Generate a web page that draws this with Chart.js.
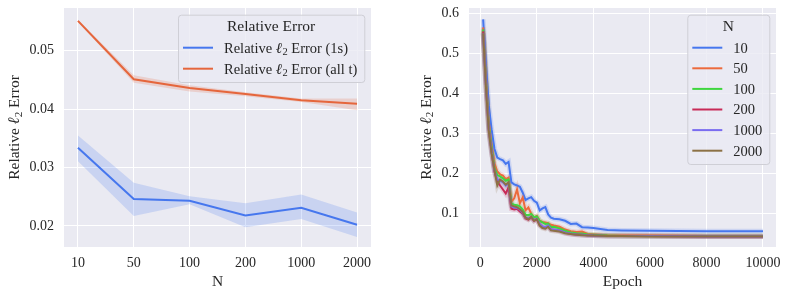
<!DOCTYPE html>
<html>
<head>
<meta charset="utf-8">
<script src="https://cdn.jsdelivr.net/npm/chart.js@4.4.0/dist/chart.umd.min.js"></script>
<style>
  html, body { margin: 0; padding: 0; background: #fff; }
  #wrap { position: relative; width: 789px; height: 292px; }
  #leftChart { position: absolute; left: 0; top: 0; }
  #rightChart { position: absolute; left: 400px; top: 0; }
</style>
</head>
<body>
<div id="wrap">
  <canvas id="leftChart" width="395" height="292"></canvas>
  <canvas id="rightChart" width="389" height="292"></canvas>
</div>
<script>
// left panel: error vs N
const nLabels = ['10', '50', '100', '200', '1000', '2000'];
const err1s = [0.0334, 0.0246, 0.0243, 0.0218, 0.0231, 0.0202];
const err1sLo = [0.0311, 0.0217, 0.0237, 0.0198, 0.0212, 0.0181];
const err1sHi = [0.0355, 0.0274, 0.0251, 0.0239, 0.0254, 0.0223];
const errAll = [0.0551, 0.0451, 0.0436, 0.0426, 0.0415, 0.0409];
const errAllLo = [0.0549, 0.0445, 0.0430, 0.0422, 0.0412, 0.0398];
const errAllHi = [0.0553, 0.0458, 0.0441, 0.0429, 0.0418, 0.0418];
const leftYTicks = [0.02, 0.03, 0.04, 0.05];

// right panel: error vs epoch for each N
const epochs = [100, 200, 300, 400, 500, 600, 700, 800, 900, 1000, 1100, 1200, 1300, 1400, 1500,
  1600, 1700, 1800, 1900, 2000, 2100, 2200, 2300, 2400, 2500, 2600, 2800, 3000, 3200, 3400,
  3600, 3800, 4000, 4500, 5000, 6000, 8000, 10000];
const runN10 = [0.585, 0.47, 0.37, 0.31, 0.262, 0.240, 0.236, 0.233, 0.224, 0.229, 0.178, 0.173, 0.170, 0.167, 0.152,
  0.134, 0.138, 0.141, 0.132, 0.127, 0.108, 0.113, 0.116, 0.098, 0.090, 0.087, 0.086, 0.082, 0.074, 0.075,
  0.066, 0.065, 0.064, 0.059, 0.058, 0.057, 0.056, 0.056];
const runN50 = [0.565, 0.44, 0.33, 0.27, 0.225, 0.205, 0.198, 0.195, 0.186, 0.190, 0.130, 0.138, 0.160, 0.126, 0.140,
  0.108, 0.115, 0.100, 0.090, 0.094, 0.082, 0.079, 0.078, 0.076, 0.072, 0.070, 0.067, 0.060, 0.056, 0.054,
  0.055, 0.049, 0.048, 0.046, 0.045, 0.045, 0.044, 0.044];
const runN100 = [0.56, 0.43, 0.32, 0.265, 0.215, 0.196, 0.193, 0.188, 0.182, 0.185, 0.125, 0.122, 0.121, 0.118, 0.110,
  0.097, 0.096, 0.099, 0.091, 0.093, 0.082, 0.078, 0.074, 0.075, 0.066, 0.067, 0.063, 0.057, 0.053, 0.051,
  0.050, 0.048, 0.047, 0.045, 0.044, 0.044, 0.044, 0.044];
const runN200 = [0.555, 0.42, 0.31, 0.255, 0.205, 0.180, 0.170, 0.160, 0.150, 0.165, 0.112, 0.110, 0.112, 0.105, 0.100,
  0.088, 0.085, 0.090, 0.082, 0.085, 0.072, 0.066, 0.064, 0.068, 0.060, 0.059, 0.057, 0.052, 0.049, 0.048,
  0.047, 0.046, 0.045, 0.044, 0.044, 0.044, 0.043, 0.043];
const runN1000 = [0.55, 0.42, 0.31, 0.255, 0.208, 0.185, 0.182, 0.178, 0.170, 0.176, 0.118, 0.115, 0.114, 0.110, 0.102,
  0.090, 0.088, 0.092, 0.084, 0.087, 0.074, 0.068, 0.066, 0.070, 0.061, 0.060, 0.058, 0.053, 0.050, 0.048,
  0.047, 0.046, 0.045, 0.044, 0.044, 0.044, 0.043, 0.043];
const runN2000 = [0.55, 0.415, 0.305, 0.25, 0.21, 0.17, 0.185, 0.18, 0.172, 0.178, 0.120, 0.118, 0.116, 0.111, 0.104,
  0.090, 0.086, 0.092, 0.082, 0.086, 0.070, 0.064, 0.062, 0.067, 0.058, 0.057, 0.055, 0.051, 0.049, 0.047,
  0.046, 0.045, 0.045, 0.044, 0.044, 0.043, 0.043, 0.043];
const rightYTicks = [0.1, 0.2, 0.3, 0.4, 0.5, 0.6];
const epochTicks = [0, 2000, 4000, 6000, 8000, 10000];

const runs = [
  { label: '10', values: runN10, color: '#4677ee' },
  { label: '50', values: runN50, color: '#ec6a3c' },
  { label: '100', values: runN100, color: '#3fd63f' },
  { label: '200', values: runN200, color: '#c82a57' },
  { label: '1000', values: runN1000, color: '#7a6cf0' },
  { label: '2000', values: runN2000, color: '#8c7145' }
];

const FONT = '"Liberation Serif", "Times New Roman", serif';
const TEXT = '#262626';
const L2 = '\u2113\u2082';
Chart.defaults.font.family = FONT;
Chart.defaults.color = TEXT;

function rgba(hex, a) {
  const n = parseInt(hex.slice(1), 16);
  return `rgba(${(n >> 16) & 255},${(n >> 8) & 255},${n & 255},${a})`;
}

// split a label so the l2 symbol can be drawn like mathtext
function mathPieces(text, size) {
  const idx = text.indexOf(L2);
  const base = `${size}px ${FONT}`;
  if (idx < 0) return [{ t: text, f: base, dy: 0 }];
  return [
    { t: text.slice(0, idx), f: base, dy: 0 },
    { t: '\u2113', f: `italic bold ${size * 1.05}px "DejaVu Serif", ${FONT}`, dy: 0 },
    { t: '2', f: `${size * 0.72}px ${FONT}`, dy: size * 0.24 },
    { t: text.slice(idx + L2.length), f: base, dy: 0 }
  ];
}

function piecesWidth(ctx, pieces) {
  let w = 0;
  pieces.forEach(p => { ctx.font = p.f; w += ctx.measureText(p.t).width; });
  return w;
}

function drawPieces(ctx, pieces, x, y) {
  ctx.textAlign = 'left';
  ctx.textBaseline = 'middle';
  pieces.forEach(p => {
    ctx.font = p.f;
    ctx.fillText(p.t, x, y + p.dy);
    x += ctx.measureText(p.t).width;
  });
}

const bgPlugin = {
  id: 'bg',
  beforeDraw(chart) {
    const { ctx, chartArea: a } = chart;
    ctx.save();
    ctx.fillStyle = '#eaeaf2';
    ctx.fillRect(a.left, a.top, a.right - a.left, a.bottom - a.top);
    ctx.restore();
  }
};

// rotated y title with the l2 symbol
const yTitle = {
  id: 'yTitle',
  afterDraw(chart, args, opts) {
    const { ctx, chartArea: a } = chart;
    const pieces = mathPieces(opts.text, 15.5);
    ctx.save();
    ctx.fillStyle = TEXT;
    ctx.translate(opts.x, (a.top + a.bottom) / 2);
    ctx.rotate(-Math.PI / 2);
    drawPieces(ctx, pieces, -piecesWidth(ctx, pieces) / 2, 0);
    ctx.restore();
  }
};

// legend box drawn inside the top right of the plot
const boxLegend = {
  id: 'boxLegend',
  afterDraw(chart, args, opts) {
    const { ctx, chartArea: a } = chart;
    const items = chart.data.datasets.filter(d => d.inLegend);
    ctx.save();
    let textW = 0;
    items.forEach(d => { textW = Math.max(textW, piecesWidth(ctx, mathPieces(d.label, 14.5))); });
    ctx.font = `15.5px ${FONT}`;
    const titleW = ctx.measureText(opts.title).width;
    const w = Math.max(5 + 30 + 11 + textW + 7, titleW + 16);
    const h = 33 + (items.length - 1) * opts.rowH + 13.3;
    const right = a.right - 6.7;
    const top = a.top + 6.7;
    const left = right - w;

    ctx.beginPath();
    ctx.roundRect(left + 0.5, top + 0.5, w, h, 3);
    ctx.fillStyle = 'rgba(234,234,242,0.8)';
    ctx.fill();
    ctx.strokeStyle = '#cfcfd6';
    ctx.lineWidth = 1;
    ctx.stroke();

    ctx.fillStyle = TEXT;
    ctx.textBaseline = 'middle';
    ctx.textAlign = 'center';
    ctx.fillText(opts.title, left + w / 2, top + 12.5);
    items.forEach((d, i) => {
      const y = top + 33 + i * opts.rowH;
      ctx.strokeStyle = d.borderColor;
      ctx.lineWidth = 2;
      ctx.beginPath();
      ctx.moveTo(left + 5, y);
      ctx.lineTo(left + 35, y);
      ctx.stroke();
      ctx.fillStyle = TEXT;
      drawPieces(ctx, mathPieces(d.label, 14.5), left + 46, y + 1);
    });
    ctx.restore();
  }
};

function gridOpts() {
  return { color: '#ffffff', lineWidth: 1, drawTicks: false };
}

function fixX(h) {
  return s => { s.height = h; s.paddingLeft = 0; s.paddingRight = 0; };
}
function fixY(w) {
  return s => { s.width = w; s.paddingTop = 0; s.paddingBottom = 0; };
}

// ---------- left chart ----------
const pts = arr => arr.map((v, i) => ({ x: i, y: v }));

new Chart(document.getElementById('leftChart'), {
  type: 'line',
  data: {
    datasets: [
      { label: 'hi1s', data: pts(err1sHi), borderWidth: 0, pointRadius: 0, fill: '+1',
        backgroundColor: 'rgba(70,119,238,0.2)', order: 4 },
      { label: 'lo1s', data: pts(err1sLo), borderWidth: 0, pointRadius: 0, fill: false, order: 4 },
      { label: 'hiAll', data: pts(errAllHi), borderWidth: 0, pointRadius: 0, fill: '+1',
        backgroundColor: 'rgba(229,102,60,0.2)', order: 3 },
      { label: 'loAll', data: pts(errAllLo), borderWidth: 0, pointRadius: 0, fill: false, order: 3 },
      { label: 'Relative ' + L2 + ' Error (1s)', data: pts(err1s), borderColor: '#4677ee',
        borderWidth: 2, pointRadius: 0, fill: false, order: 2, inLegend: true },
      { label: 'Relative ' + L2 + ' Error (all t)', data: pts(errAll), borderColor: '#e5663c',
        borderWidth: 2, pointRadius: 0, fill: false, order: 1, inLegend: true }
    ]
  },
  options: {
    responsive: false,
    animation: false,
    layout: { padding: { top: 8, right: 24, left: 0, bottom: 0 } },
    plugins: {
      legend: { display: false },
      tooltip: { enabled: false },
      boxLegend: { title: 'Relative Error', rowH: 21 },
      yTitle: { text: 'Relative ' + L2 + ' Error', x: 15 }
    },
    scales: {
      x: {
        type: 'linear', min: -0.25, max: 5.25,
        afterBuildTicks: s => { s.ticks = nLabels.map((t, i) => ({ value: i })); },
        afterFit: fixX(45),
        ticks: { callback: v => nLabels[v], font: { size: 14 }, padding: 8, maxRotation: 0 },
        grid: gridOpts(),
        border: { display: false },
        title: { display: true, text: 'N', font: { size: 15.5 }, padding: { top: 0, bottom: 1 } }
      },
      y: {
        type: 'linear', min: 0.0164, max: 0.0573,
        afterBuildTicks: s => { s.ticks = leftYTicks.map(v => ({ value: v })); },
        afterFit: fixY(64),
        ticks: { callback: v => v.toFixed(2), font: { size: 14 }, padding: 10 },
        grid: gridOpts(),
        border: { display: false }
      }
    }
  },
  plugins: [bgPlugin, boxLegend, yTitle]
});

// ---------- right chart ----------
const rightSets = [];
runs.forEach((r, k) => {
  const data = epochs.map((e, i) => ({ x: e, y: r.values[i] }));
  rightSets.push({ label: r.label + ' band', data, borderColor: rgba(r.color, 0.18), borderWidth: 5,
    pointRadius: 0, fill: false, order: 20 - k });
  rightSets.push({ label: r.label, data, borderColor: r.color, borderWidth: 2,
    pointRadius: 0, fill: false, order: 10 - k, inLegend: true });
});

new Chart(document.getElementById('rightChart'), {
  type: 'line',
  data: { datasets: rightSets },
  options: {
    responsive: false,
    animation: false,
    layout: { padding: { top: 8, right: 13, left: 0, bottom: 0 } },
    plugins: {
      legend: { display: false },
      tooltip: { enabled: false },
      boxLegend: { title: 'N', rowH: 20.6 },
      yTitle: { text: 'Relative ' + L2 + ' Error', x: 26.7 }
    },
    scales: {
      x: {
        type: 'linear', min: -400, max: 10460,
        afterBuildTicks: s => { s.ticks = epochTicks.map(v => ({ value: v })); },
        afterFit: fixX(45),
        ticks: { callback: v => String(v), font: { size: 14 }, padding: 8, maxRotation: 0 },
        grid: gridOpts(),
        border: { display: false },
        title: { display: true, text: 'Epoch', font: { size: 15.5 }, padding: { top: 0, bottom: 1 } }
      },
      y: {
        type: 'linear', min: 0.0165, max: 0.6133,
        afterBuildTicks: s => { s.ticks = rightYTicks.map(v => ({ value: v })); },
        afterFit: fixY(69),
        ticks: { callback: v => v.toFixed(1), font: { size: 14 }, padding: 10 },
        grid: gridOpts(),
        border: { display: false }
      }
    }
  },
  plugins: [bgPlugin, boxLegend, yTitle]
});
</script>
</body>
</html>
